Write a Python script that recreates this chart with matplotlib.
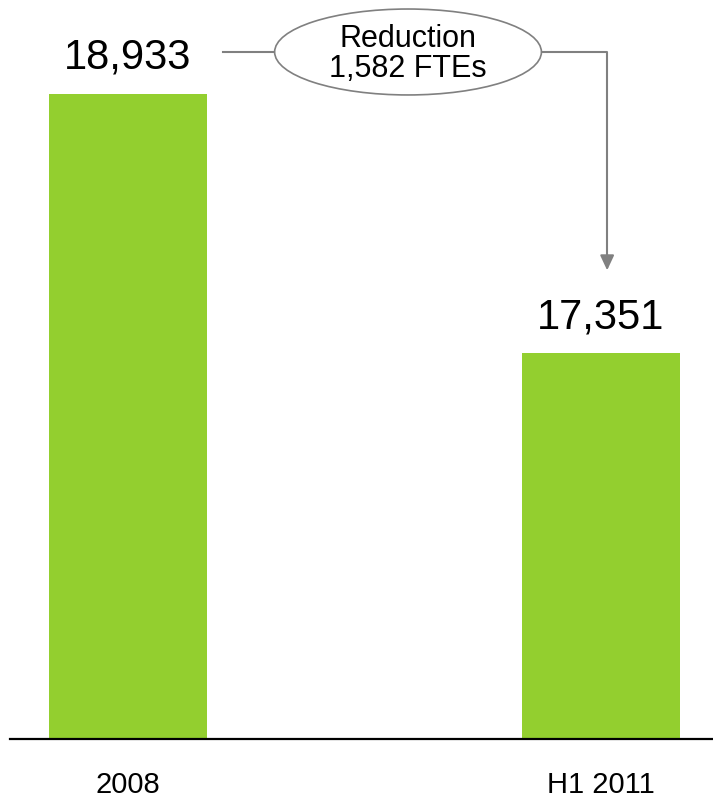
import matplotlib.pyplot as plt
from matplotlib.patches import Ellipse

plt.rcParams['font.family'] = ['Liberation Sans', 'DejaVu Sans']

periods = ['2008', 'H1 2011']
ftes = [18933, 17351]
reduction_text = 'Reduction\n1,582 FTEs'

bar_color = '#93cf2f'
line_color = '#808080'

fig = plt.figure(figsize=(7.13, 7.99), dpi=100)
ax = fig.add_axes([10 / 713, 60 / 799, 703 / 713, 739 / 799])

x = list(range(len(periods)))
ax.bar(x, ftes, width=0.334, color=bar_color, zorder=2)
ax.set_xlim(-0.2495, 1.2368)
ax.set_ylim(15000, 19506)

for xi, v in zip(x, ftes):
    ax.annotate(f'{v:,}', (xi, v), xytext=(0, 18), textcoords='offset points',
                ha='center', va='baseline', fontsize=30)

# connector from first label, through the ellipse, down to the second bar
y_conn = ftes[0] + 256
ell_x, ell_w, ell_h = 0.592, 0.564, 524
ax.plot([0.2, ell_x - ell_w / 2], [y_conn, y_conn], color=line_color, lw=1.5, zorder=3)
ax.plot([ell_x + ell_w / 2, 1.013, 1.013], [y_conn, y_conn, ftes[1] + 600],
        color=line_color, lw=1.5, zorder=3)
ax.annotate('', xy=(1.013, ftes[1] + 490), xytext=(1.013, ftes[1] + 620),
            arrowprops=dict(arrowstyle='-|>,head_length=0.9,head_width=0.42',
                            color=line_color, lw=1.5))
ax.add_patch(Ellipse((ell_x, y_conn), ell_w, ell_h, facecolor='white',
                     edgecolor=line_color, lw=1.2, zorder=4))
ax.text(ell_x, y_conn - 15, reduction_text, ha='center', va='center', fontsize=22,
        linespacing=1.0, zorder=5)

for side in ['top', 'right', 'left']:
    ax.spines[side].set_visible(False)
ax.spines['bottom'].set_linewidth(1.6)
ax.set_yticks([])
ax.set_xticks(x)
ax.set_xticklabels(periods, fontsize=21)
ax.tick_params(axis='x', length=0, pad=23)

fig.savefig('out.png', dpi=100)
